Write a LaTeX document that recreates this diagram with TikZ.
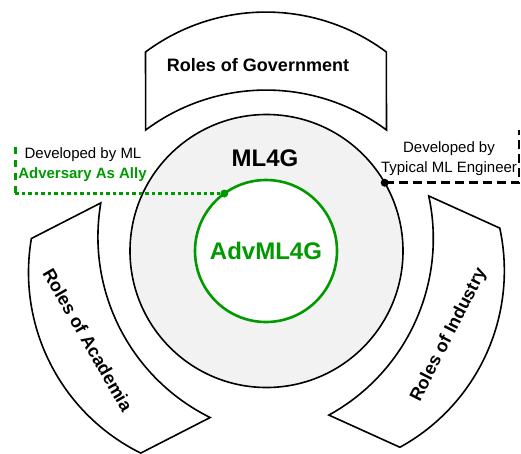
\documentclass[tikz,border=0pt]{standalone}
\usepackage{fontspec}
\setmainfont{Liberation Sans}
\usepackage{tikz}
\usepackage{color}
\definecolor{advgreen}{RGB}{0,153,0}
\definecolor{mlgray}{RGB}{242,242,242}

\begin{document}
\begin{tikzpicture}[x=1pt,y=1pt]
        \tikzstyle{role shape}=[draw,line width=1.6pt,fill=white]
        \tikzstyle{role text}=[font=\fontsize{18}{20}\selectfont\bfseries,align=center]
        \tikzstyle{note text}=[font=\fontsize{15}{20}\selectfont,align=center]
        \tikzstyle{dot}=[circle,fill,inner sep=0pt,minimum size=8pt]
        \useasboundingbox (0,0) rectangle (521,-453);

        % the three bent bands round the circle
        \foreach \ang in {0,117,245.5} {
            \begin{scope}[shift={(266,-254)},rotate=\ang]
                \draw[role shape] (-120.5,202) arc[start angle=126.7,end angle=53.3,radius=201.5]
                    -- (120.5,124) arc[start angle=53.3,end angle=126.7,radius=201.5] -- cycle;
            \end{scope}
        }

        \node[circle,draw,line width=1.6pt,fill=mlgray,minimum size=273pt,inner sep=0pt,outer sep=0pt] (ml4g) at (266.5,-251) {};
        \node[font=\fontsize{24}{26}\selectfont\bfseries] (ml4glabel) at (265,-158) {ML4G};
        \node[circle,draw=advgreen,line width=2.6pt,fill=white,minimum size=142pt,inner sep=0pt,outer sep=0pt,
              text=advgreen,font=\fontsize{24}{26}\selectfont\bfseries] (adv) at (266,-251) {AdvML4G};

        \node[role text] (gov) at (258,-65) {Roles of Government};
        \node[role text,rotate=-60] (acad) at (88,-340) {Roles of Academia};
        \node[role text,rotate=63] (ind) at (449,-335) {Roles of Industry};

        \node[note text] (mlnote) at (83,-155) {Developed by ML};
        \node[note text,text=advgreen,font=\fontsize{15}{20}\selectfont\bfseries] (allynote) at (82.5,-175) {Adversary As Ally};
        \node[note text] (engnote) at (449,-159) {Developed by\\Typical ML Engineer};

        \node[dot,fill=advgreen] (advdot) at (adv.126) {};
        \node[dot] (mldot) at (ml4g.30) {};
        \coordinate (leftend) at (15,-147);
        \coordinate (rightend) at (519,-130);

        \draw[advgreen,line width=3.5pt,dash pattern=on 3.5pt off 3pt] (advdot -| leftend) -- (advdot.center);
        \draw[advgreen,line width=3pt,dash pattern=on 7pt off 6pt] (leftend) -- (advdot -| leftend);
        \draw[line width=2.6pt,dash pattern=on 9pt off 5pt] (mldot.center) -- (mldot -| rightend) -- (rightend);
    \end{tikzpicture}
\end{document}
